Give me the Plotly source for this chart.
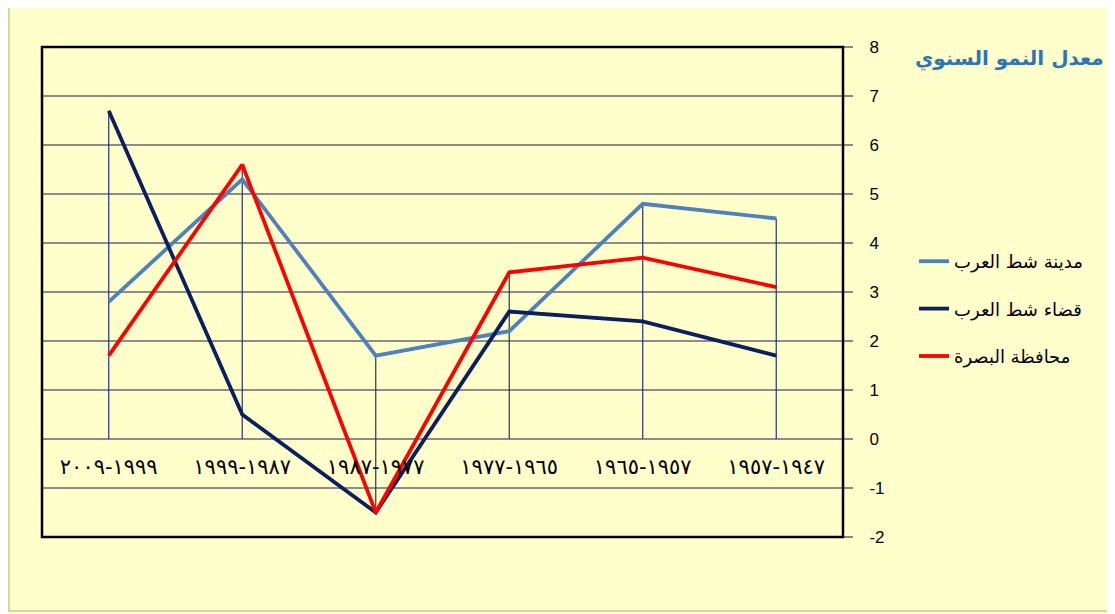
import plotly.graph_objects as go

LRM = "\u200e"
periods = ["٢٠٠٩-١٩٩٩", "١٩٩٩-١٩٨٧", "١٩٨٧-١٩٧٧", "١٩٧٧-١٩٦٥", "١٩٦٥-١٩٥٧", "١٩٥٧-١٩٤٧"]
categories = [p.replace("-", LRM + "-" + LRM) for p in periods]

city = [2.8, 5.3, 1.7, 2.2, 4.8, 4.5]        # مدينة شط العرب
district = [6.7, 0.5, -1.5, 2.6, 2.4, 1.7]   # قضاء شط العرب
province = [1.7, 5.6, -1.5, 3.4, 3.7, 3.1]   # محافظة البصرة

series_names = ["مدينة شط العرب", "قضاء شط العرب", "محافظة البصرة"]
series_values = [city, district, province]
series_colors = ["#4F81BD", "#0B1F5E", "#FF0000"]

y_ticks = [-2, -1, 0, 1, 2, 3, 4, 5, 6, 7, 8]
y_tick_text = ["-2", "-1", "0", "1", "2", "3", "4", "5", "6", "7", "8"]
title_text = "معدل النمو السنوي"

# page offset by body margin (8px); figure coords = page coords - 8
OFF = 8
W, H = 1099, 606
L, R, T, B = 42 - OFF, 843 - OFF, 47 - OFF, 537 - OFF
pw, ph = R - L, B - T

def px_x(x):
    return (x - OFF - L) / pw

def px_y(y):
    return (B - (y - OFF)) / ph

fig = go.Figure()

# drop lines
dx, dy = [], []
for i, c in enumerate(categories):
    vals = [s[i] for s in series_values]
    dx += [c, c, None]
    dy += [max(0, max(vals)), min(0, min(vals)), None]
fig.add_trace(go.Scatter(x=dx, y=dy, mode="lines", line=dict(color="#1F3864", width=1.2),
                         showlegend=False, hoverinfo="skip"))

for i, (name, vals, col) in enumerate(zip(series_names, series_values, series_colors)):
    fig.add_trace(go.Scatter(x=categories, y=vals, mode="lines", name=name,
                             line=dict(color=col, width=3.8), legendgroup=str(i)))

fig.update_layout(
    width=W, height=H,
    margin=dict(l=L, r=W - R, t=T, b=H - B, pad=0, autoexpand=False),
    paper_bgcolor="#FFFFCC",
    plot_bgcolor="#FFFFCC",
    font=dict(family="DejaVu Sans, Liberation Sans, sans-serif", color="black"),
    showlegend=True,
    legend=dict(x=px_x(914), xanchor="left", y=px_y(243), yanchor="top",
                bgcolor="rgba(0,0,0,0)", font=dict(size=18, color="black"),
                traceorder="grouped", tracegroupgap=21),
    xaxis=dict(type="category", anchor="free", position=0.2, showline=False, showgrid=False,
               zeroline=False, ticks="", tickfont=dict(size=21, color="black"),
               ticklabelstandoff=13, range=[-0.5, 5.5], fixedrange=True),
    yaxis=dict(side="right", range=[-2, 8], tickvals=y_ticks, ticktext=y_tick_text,
               showgrid=True, gridcolor="#8C8C8C", gridwidth=1.5, zeroline=False,
               ticks="outside", ticklen=9, tickcolor="#888888", tickwidth=1.5, showline=False,
               tickfont=dict(size=17, color="black", family="Liberation Sans, Arial, sans-serif"),
               ticklabelstandoff=13, fixedrange=True),
    shapes=[
        dict(type="rect", xref="paper", yref="paper", x0=px_x(9), x1=px_x(1113),
             y0=px_y(611), y1=px_y(5), line=dict(color="#B6D38C", width=1.5), layer="below"),
        dict(type="rect", xref="paper", yref="paper", x0=0, x1=1, y0=0, y1=1,
             line=dict(color="black", width=2.5)),
    ],
    annotations=[
        dict(text="<b>" + title_text + "</b>", xref="paper", yref="paper",
             x=px_x(1106), y=px_y(58), xanchor="right", yanchor="middle", showarrow=False,
             font=dict(size=20, color="#2E75B6", family="DejaVu Sans, sans-serif")),
    ],
)

fig.write_html("out.html")
